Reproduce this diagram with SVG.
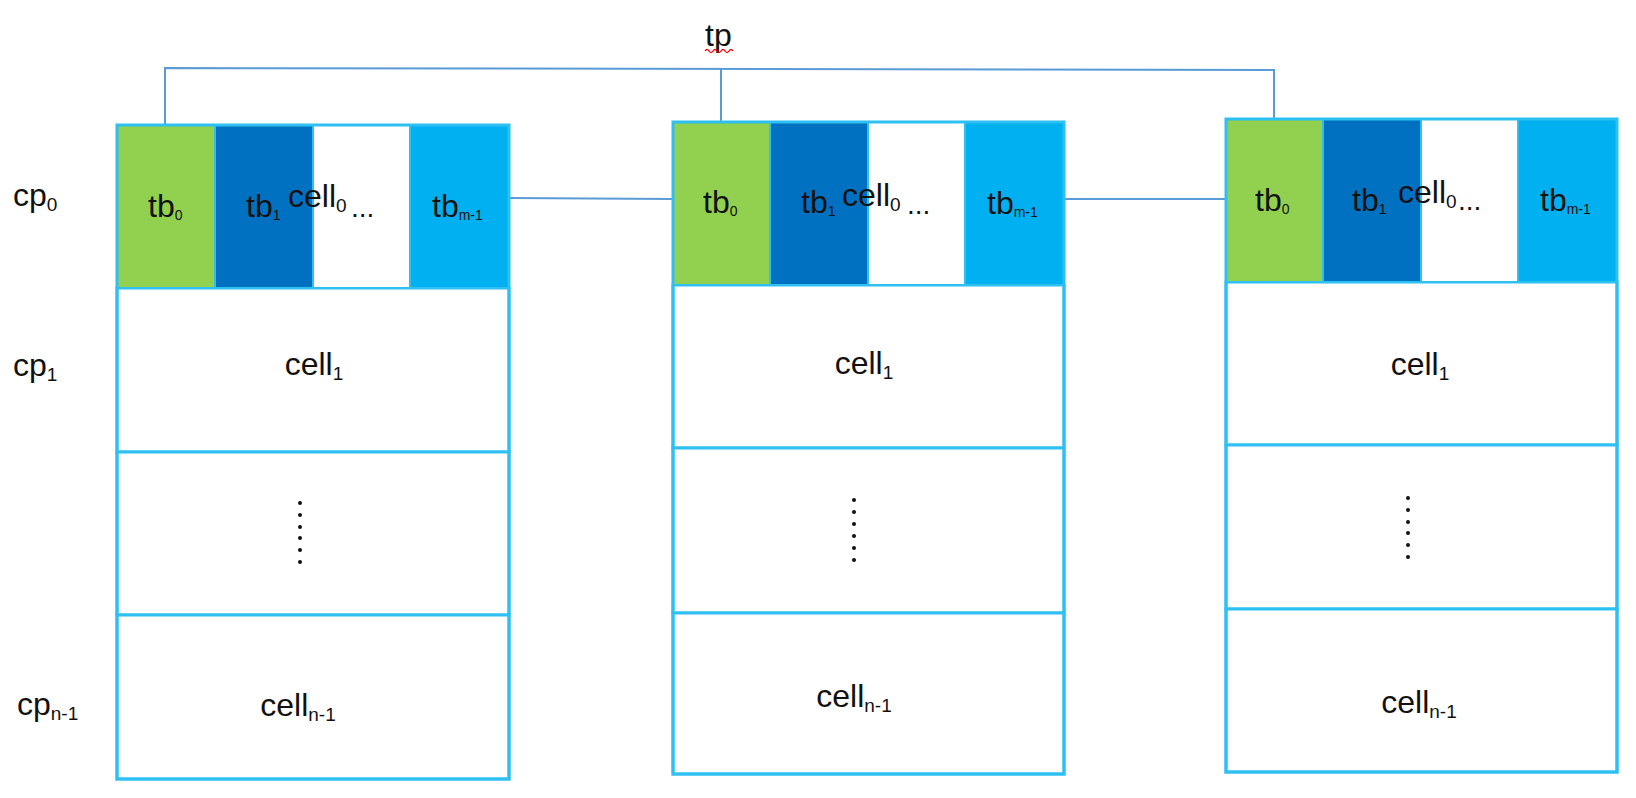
<svg xmlns="http://www.w3.org/2000/svg" width="1636" height="798" viewBox="0 0 1636 798">
<style>
  text { font-family: "Liberation Sans", Arial, sans-serif; fill: #111; }
  .lbl { font-size: 32px; }
  .sub { font-size: 19px; }
  .tsub { font-size: 14px; }
  .cell { fill: #ffffff; stroke: #2EC0F2; stroke-width: 3; }
  .hg { fill: #92D050; stroke: #2EC0F2; stroke-width: 2; }
  .hd { fill: #0070C0; stroke: #2EC0F2; stroke-width: 2; }
  .hw { fill: #ffffff; stroke: #2EC0F2; stroke-width: 2; }
  .hl { fill: #00B0F0; stroke: #2EC0F2; stroke-width: 2; }
  .conn { fill: none; stroke: #5B9BD5; stroke-width: 2; }
  .dot { fill: #111; }
  .dots { font-size: 28px; }
</style>
<rect width="1636" height="798" fill="#ffffff"/>

<g id="connectors">
  <polyline class="conn" points="165,125 165,68 1274,70 1274,119"/>
  <line class="conn" x1="721" y1="69" x2="721" y2="122"/>
  <line class="conn" x1="509" y1="198" x2="673" y2="199"/>
  <line class="conn" x1="1064" y1="199" x2="1226" y2="199"/>
</g>

<g id="label-tp">
  <text class="lbl" x="705" y="46">tp</text>
  <path d="M705,51 q2,-3 4,0 t4,0 t4,0 t4,0 t4,0 t4,0 t4,0" fill="none" stroke="#FF0000" stroke-width="1.3"/>
</g>

<g id="row-labels">
  <text class="lbl" x="13" y="206">cp<tspan class="sub" dy="5">0</tspan></text>
  <text class="lbl" x="13" y="376">cp<tspan class="sub" dy="5">1</tspan></text>
  <text class="lbl" x="17" y="715">cp<tspan class="sub" dy="5">n-1</tspan></text>
</g>

<g id="block1">
  <rect class="cell" x="117" y="288" width="392" height="164"/>
  <rect class="cell" x="117" y="452" width="392" height="163"/>
  <rect class="cell" x="117" y="615" width="392" height="164"/>
  <rect class="hg" x="117" y="125" width="98" height="163"/>
  <rect class="hd" x="215" y="125" width="98" height="163"/>
  <rect class="hw" x="313" y="125" width="97" height="163"/>
  <rect class="hl" x="410" y="125" width="99" height="163"/>
  <rect x="117" y="125" width="392" height="654" fill="none" stroke="#2EC0F2" stroke-width="3"/>
  <text class="lbl" x="148" y="217">tb<tspan class="tsub" dy="3">0</tspan></text>
  <text class="lbl" x="246" y="217">tb<tspan class="tsub" dy="3">1</tspan></text>
  <text class="lbl" x="288" y="207">cell<tspan class="sub" dy="5">0</tspan></text>
  <text class="dots" x="351" y="217">...</text>
  <text class="lbl" x="432" y="217">tb<tspan class="tsub" dy="3">m-1</tspan></text>
  <text class="lbl" x="314" y="375" text-anchor="middle">cell<tspan class="sub" dy="5">1</tspan></text>
  <text class="lbl" x="298" y="716" text-anchor="middle">cell<tspan class="sub" dy="5">n-1</tspan></text>
  <circle class="dot" cx="300" cy="503" r="2"/>
  <circle class="dot" cx="300" cy="515" r="2"/>
  <circle class="dot" cx="300" cy="527" r="2"/>
  <circle class="dot" cx="300" cy="538" r="2"/>
  <circle class="dot" cx="300" cy="550" r="2"/>
  <circle class="dot" cx="300" cy="562" r="2"/>
</g>

<g id="block2">
  <rect class="cell" x="673" y="285" width="391" height="163"/>
  <rect class="cell" x="673" y="448" width="391" height="165"/>
  <rect class="cell" x="673" y="613" width="391" height="161"/>
  <rect class="hg" x="673" y="122" width="97" height="163"/>
  <rect class="hd" x="770" y="122" width="98" height="163"/>
  <rect class="hw" x="868" y="122" width="97" height="163"/>
  <rect class="hl" x="965" y="122" width="99" height="163"/>
  <rect x="673" y="122" width="391" height="652" fill="none" stroke="#2EC0F2" stroke-width="3"/>
  <text class="lbl" x="703" y="213">tb<tspan class="tsub" dy="3">0</tspan></text>
  <text class="lbl" x="801" y="213">tb<tspan class="tsub" dy="3">1</tspan></text>
  <text class="lbl" x="842" y="206">cell<tspan class="sub" dy="5">0</tspan></text>
  <text class="dots" x="907" y="214">...</text>
  <text class="lbl" x="987" y="214">tb<tspan class="tsub" dy="3">m-1</tspan></text>
  <text class="lbl" x="864" y="374" text-anchor="middle">cell<tspan class="sub" dy="5">1</tspan></text>
  <text class="lbl" x="854" y="707" text-anchor="middle">cell<tspan class="sub" dy="5">n-1</tspan></text>
  <circle class="dot" cx="854" cy="500" r="2"/>
  <circle class="dot" cx="854" cy="512" r="2"/>
  <circle class="dot" cx="854" cy="524" r="2"/>
  <circle class="dot" cx="854" cy="536" r="2"/>
  <circle class="dot" cx="854" cy="548" r="2"/>
  <circle class="dot" cx="854" cy="560" r="2"/>
</g>

<g id="block3">
  <rect class="cell" x="1226" y="282" width="391" height="163"/>
  <rect class="cell" x="1226" y="445" width="391" height="164"/>
  <rect class="cell" x="1226" y="609" width="391" height="163"/>
  <rect class="hg" x="1226" y="119" width="97" height="163"/>
  <rect class="hd" x="1323" y="119" width="98" height="163"/>
  <rect class="hw" x="1421" y="119" width="97" height="163"/>
  <rect class="hl" x="1518" y="119" width="99" height="163"/>
  <rect x="1226" y="119" width="391" height="653" fill="none" stroke="#2EC0F2" stroke-width="3"/>
  <text class="lbl" x="1255" y="211">tb<tspan class="tsub" dy="3">0</tspan></text>
  <text class="lbl" x="1352" y="211">tb<tspan class="tsub" dy="3">1</tspan></text>
  <text class="lbl" x="1398" y="203">cell<tspan class="sub" dy="5">0</tspan></text>
  <text class="dots" x="1458" y="210">...</text>
  <text class="lbl" x="1540" y="211">tb<tspan class="tsub" dy="3">m-1</tspan></text>
  <text class="lbl" x="1420" y="375" text-anchor="middle">cell<tspan class="sub" dy="5">1</tspan></text>
  <text class="lbl" x="1419" y="713" text-anchor="middle">cell<tspan class="sub" dy="5">n-1</tspan></text>
  <circle class="dot" cx="1408" cy="498" r="2"/>
  <circle class="dot" cx="1408" cy="510" r="2"/>
  <circle class="dot" cx="1408" cy="522" r="2"/>
  <circle class="dot" cx="1408" cy="533" r="2"/>
  <circle class="dot" cx="1408" cy="545" r="2"/>
  <circle class="dot" cx="1408" cy="557" r="2"/>
</g>
</svg>
